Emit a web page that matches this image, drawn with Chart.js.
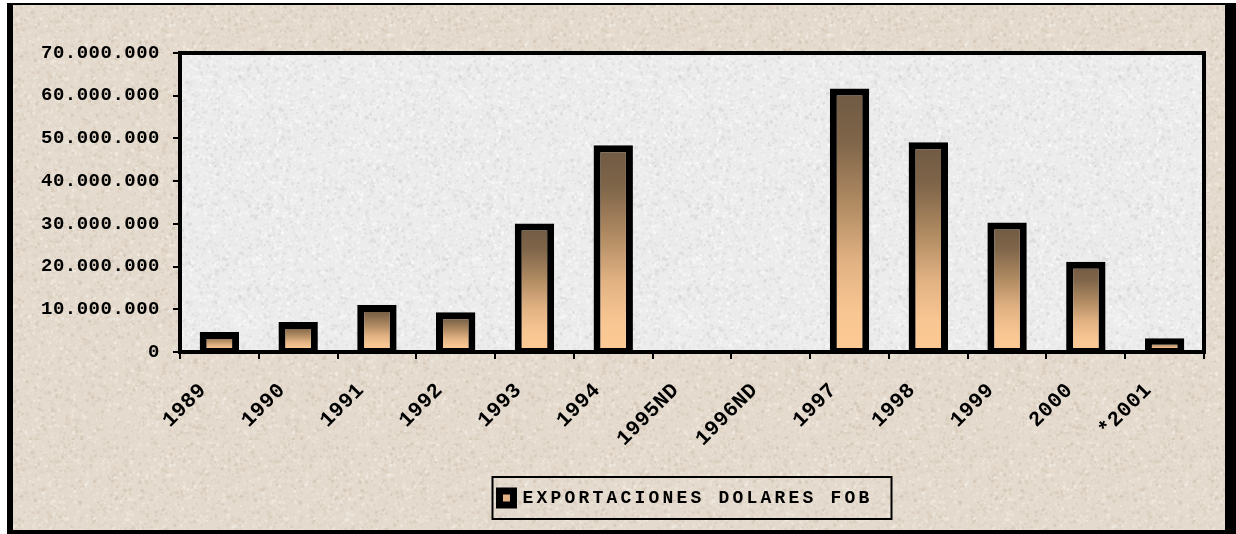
<!DOCTYPE html>
<html>
<head>
<meta charset="utf-8">
<script src="https://cdn.jsdelivr.net/npm/chart.js@4.4.1/dist/chart.umd.min.js"></script>
<style>
  html, body { margin: 0; padding: 0; background: #ffffff; }
  canvas { display: block; }
</style>
</head>
<body>
<canvas id="c" width="1236" height="534"></canvas>
<script>
// ---- data ----
const categories = ['1989', '1990', '1991', '1992', '1993', '1994', '1995ND', '1996ND', '1997', '1998', '1999', '2000', '*2001'];
const exportValues = [4700000, 7000000, 11000000, 9300000, 30100000, 48400000, null, null, 61700000, 49100000, 30300000, 21100000, 3200000];
const seriesLabel = 'EXPORTACIONES DOLARES FOB';
const yMin = 0;
const yMax = 70000000;
const yStep = 10000000;

function formatThousands(v) {
  return String(Math.round(v)).replace(/\B(?=(\d{3})+(?!\d))/g, '.');
}

// ---- decorative textures (deterministic) ----
function hash(n) {
  const s = Math.sin(n * 12.9898 + 78.233) * 43758.5453;
  return s - Math.floor(s);
}
function makeTexture(base, specks, seed, count) {
  const cv = document.createElement('canvas');
  cv.width = 220; cv.height = 220;
  const g = cv.getContext('2d');
  g.fillStyle = base;
  g.fillRect(0, 0, 220, 220);
  for (let i = 0; i < count; i++) {
    const x = hash(i * 3 + seed) * 220;
    const y = hash(i * 3 + 1 + seed) * 220;
    const k = hash(i * 3 + 2 + seed);
    g.globalAlpha = 0.25 + 0.45 * hash(i * 7 + seed * 5);
    g.fillStyle = specks[Math.floor(k * specks.length) % specks.length];
    const sz = 1 + Math.floor(hash(i * 11 + seed) * 2.6);
    g.fillRect(x, y, sz, sz);
  }
  g.globalAlpha = 1;
  return cv;
}
const beigeTex = makeTexture('#e4dacd', ['#d2c3b1', '#efe8de', '#d9ccbc', '#f3ede5'], 17, 5200);
const greyTex = makeTexture('#ececec', ['#d6d6d6', '#f9f9f9', '#dedede', '#fbfbfb'], 91, 6000);

const LEGEND_SPACING = '3.2px';
const AXIS_SPACING = '0.5px';
const LEGEND_SHIFT = -6;

const decor = {
  id: 'decor',
  beforeLayout(chart) { chart.ctx.letterSpacing = LEGEND_SPACING; },
  afterLayout(chart) {
    const lg = chart.legend;
    if (lg) { lg.left += LEGEND_SHIFT; lg.right += LEGEND_SHIFT; }
  },
  beforeDraw(chart) {
    const c = chart.ctx;
    const ca = chart.chartArea;
    c.save();
    c.fillStyle = '#ffffff';
    c.fillRect(0, 0, chart.width, chart.height);
    c.fillStyle = c.createPattern(beigeTex, 'repeat');
    c.fillRect(7, 3, chart.width - 7, chart.height - 3);
    c.fillStyle = c.createPattern(greyTex, 'repeat');
    c.fillRect(ca.left, ca.top, ca.right - ca.left, ca.bottom - ca.top);
    c.restore();
    c.letterSpacing = LEGEND_SPACING;
  },
  beforeDatasetsDraw(chart) { chart.ctx.letterSpacing = AXIS_SPACING; },
  afterDraw(chart) {
    const c = chart.ctx;
    const ca = chart.chartArea;
    c.save();
    // plot area frame
    c.strokeStyle = '#000';
    c.lineWidth = 4;
    c.strokeRect(ca.left, ca.top, ca.right - ca.left, ca.bottom - ca.top);
    // legend frame
    const lg = chart.legend;
    if (lg && lg.options.display) {
      const cx = lg.left - LEGEND_SHIFT + lg.width / 2;
      const cy = lg.top + lg.options.labels.padding + 9;
      c.lineWidth = 2;
      c.strokeRect(cx - 199.5, cy - 21, 399, 42);
    }
    // outer frame
    c.fillStyle = '#000';
    c.fillRect(7, 3, chart.width - 7, 2);
    c.fillRect(7, 3, 6, chart.height - 3);
    c.fillRect(chart.width - 11, 3, 11, chart.height - 3);
    c.fillRect(7, chart.height - 4, chart.width - 7, 4);
    c.restore();
  }
};

function barGradient(ctx) {
  const chart = ctx.chart;
  if (ctx.type !== 'data' || !chart.chartArea || ctx.raw == null || !chart.scales.y) return '#e2b282';
  const ys = chart.scales.y;
  const top = ys.getPixelForValue(ctx.raw);
  const base = ys.getPixelForValue(0);
  const g = chart.ctx.createLinearGradient(0, top, 0, base);
  g.addColorStop(0, '#6e5943');
  g.addColorStop(0.2, '#7f6549');
  g.addColorStop(0.45, '#b38d64');
  g.addColorStop(0.66, '#e2b283');
  g.addColorStop(0.85, '#f8c692');
  g.addColorStop(1, '#fdca95');
  return g;
}

const yFont = { family: 'Liberation Mono', size: 19, weight: 'bold' };
const xFont = { family: 'Liberation Mono', size: 21, weight: 'bold' };

new Chart(document.getElementById('c'), {
  type: 'bar',
  data: {
    labels: categories,
    datasets: [{
      label: seriesLabel,
      data: exportValues,
      backgroundColor: barGradient,
      borderColor: '#000000',
      borderWidth: { top: 7, left: 7, right: 7, bottom: 3 },
      borderSkipped: false,
      barPercentage: 0.5,
      categoryPercentage: 1.0
    }]
  },
  options: {
    responsive: false,
    animation: false,
    events: [],
    devicePixelRatio: 1,
    layout: { padding: { left: 14, right: 32, top: 53, bottom: 17 } },
    plugins: {
      tooltip: { enabled: false },
      legend: {
        display: true,
        position: 'bottom',
        fullSize: false,
        labels: {
          color: '#000',
          boxWidth: 14,
          boxHeight: 14,
          padding: 10,
          font: { family: 'Liberation Mono', size: 18, weight: 'bold' },
          generateLabels(chart) {
            return chart.data.datasets.map((ds, i) => ({
              text: ds.label,
              fillStyle: '#e2b282',
              strokeStyle: '#000000',
              lineWidth: 7,
              hidden: false,
              datasetIndex: i
            }));
          }
        }
      }
    },
    scales: {
      x: {
        offset: true,
        grid: { display: true, offset: true, drawOnChartArea: false, drawTicks: true, tickLength: 7, color: '#000', lineWidth: 2 },
        border: { display: false },
        ticks: {
          z: 1,
          color: '#000',
          font: xFont,
          autoSkip: false,
          minRotation: 45,
          maxRotation: 45,
          labelOffset: -16,
          padding: 19
        },
        afterFit(s) { s.height = 127; }
      },
      y: {
        min: yMin,
        max: yMax,
        grid: { display: true, drawOnChartArea: false, drawTicks: true, tickLength: 7, color: '#000', lineWidth: 2 },
        border: { display: false },
        ticks: {
          z: 1,
          stepSize: yStep,
          color: '#000',
          font: yFont,
          padding: 13,
          callback: (v) => formatThousands(v)
        },
        afterFit(s) { s.width = 166; }
      }
    }
  },
  plugins: [decor]
});
</script>
</body>
</html>
